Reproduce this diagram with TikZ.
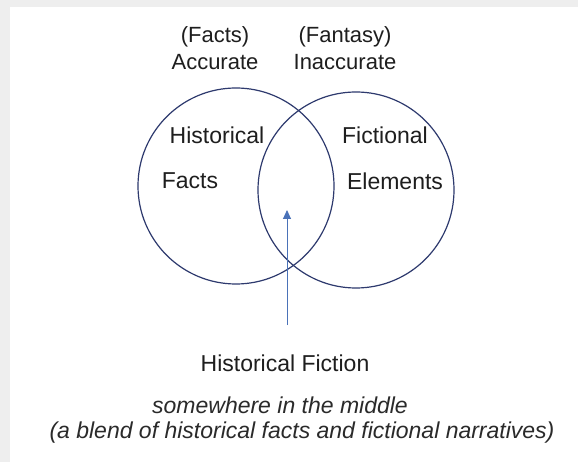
\documentclass[tikz,border=0pt]{standalone}
\usepackage{fontspec}
\setmainfont{Liberation Sans}
\usetikzlibrary{arrows.meta}
\definecolor{bgray}{HTML}{EEEEEE}
\definecolor{ring}{HTML}{2E3A6E}
\definecolor{arrowblue}{HTML}{4A72B8}
\definecolor{txt}{HTML}{1E1E1E}
\definecolor{itxt}{HTML}{2A2A2A}
\tikzset{
  venn/.style={circle, draw=ring, line width=1.2pt, minimum size=196pt, inner sep=0pt},
  lbl/.style={font=\fontsize{22}{26}\selectfont, text=txt, inner sep=0pt, align=center},
  clbl/.style={font=\fontsize{23}{27}\selectfont, text=txt, inner sep=0pt},
  ilbl/.style={font=\fontsize{23}{27}\selectfont\itshape, text=itxt, inner sep=0pt},
  pointer/.style={draw=arrowblue, line width=0.9pt, -{Triangle[length=9pt,width=8pt]}}
}
\begin{document}
\begin{tikzpicture}[x=1pt,y=-1pt]
\useasboundingbox (0,0) rectangle (578,462);
\fill[bgray] (0,0) rectangle (578,462);
\fill[white] (10,7) rectangle (578,462);
\node[venn] (L) at (236,186) {};
\node[venn] (R) at (356,190) {};
\node[lbl] (facts) at (215,37) {(Facts)};
\node[lbl] (acc) at (215,62) {Accurate};
\node[lbl] (fant) at (345,37) {(Fantasy)};
\node[lbl] (inacc) at (345,62) {Inaccurate};
\node[clbl] (hist) at (217,135) {Historical};
\node[clbl] (hfacts) at (190,181) {Facts};
\node[clbl] (fict) at (385,135) {Fictional};
\node[clbl] (elem) at (395,181) {Elements};
\node[clbl] (hf) at (285,363) {Historical Fiction};
\node[ilbl] (some) at (280,405) {somewhere in the middle};
\node[ilbl] (blend) at (302,433) {(a blend of historical facts and fictional narratives)};
\coordinate (tail) at (287,325);
\coordinate (tip) at (287,210);
\draw[pointer] (tail) -- (tip);
\end{tikzpicture}
\end{document}
